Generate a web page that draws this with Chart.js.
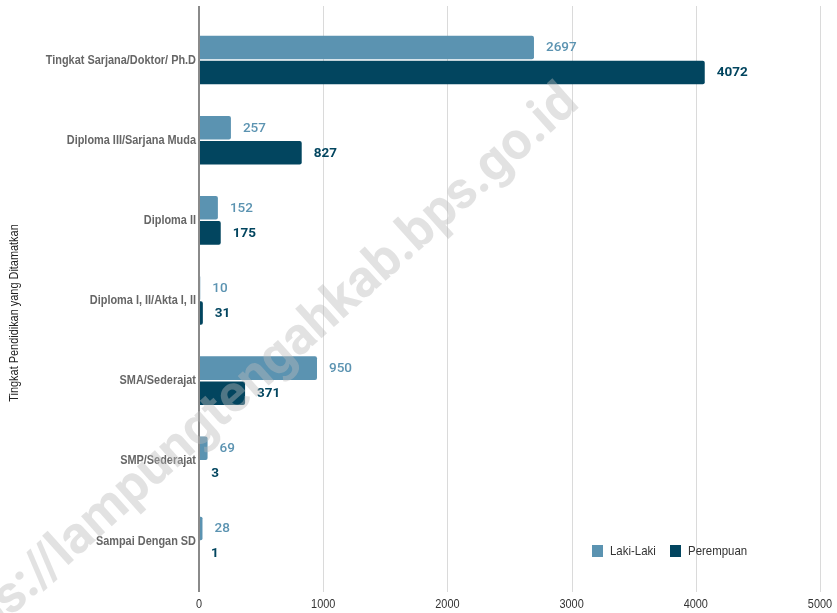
<!DOCTYPE html>
<html>
<head>
<meta charset="utf-8">
<script src="https://cdn.jsdelivr.net/npm/chart.js@4/dist/chart.umd.min.js"></script>
<style>
html,body{margin:0;padding:0;background:#fff;}
#wrap{width:837px;height:613px;position:relative;}
</style>
</head>
<body>
<div id="wrap"><canvas id="c" width="837" height="613"></canvas></div>
<script>
const categories = [
  "Tingkat Sarjana/Doktor/ Ph.D",
  "Diploma III/Sarjana Muda",
  "Diploma II",
  "Diploma I, II/Akta I, II",
  "SMA/Sederajat",
  "SMP/Sederajat",
  "Sampai Dengan SD"
];
const lakiLaki = [2697, 257, 152, 10, 950, 69, 28];
const perempuan = [4072, 827, 175, 31, 371, 3, 1];
const seriesNames = ["Laki-Laki", "Perempuan"];
const xTicks = [0, 1000, 2000, 3000, 4000, 5000];
const axisTitle = "Tingkat Pendidikan yang Ditamatkan";
const watermark = "https://lampungtengahkab.bps.go.id";

const COL_L = "#5b93b1";
const COL_P = "#02455f";
const SANS = "'Liberation Sans', Arial, sans-serif";

function narrowText(ctx, text, x, y, align, sx) {
  ctx.save();
  ctx.translate(x, y);
  ctx.scale(sx, 1);
  ctx.textAlign = align;
  ctx.fillText(text, 0, 0);
  ctx.restore();
}

const extras = {
  id: "extras",
  beforeDatasetsDraw(chart) {
    const ctx = chart.ctx, xs = chart.scales.x;
    const top = 6, bottom = 592;
    ctx.save();
    ctx.strokeStyle = "#dadada";
    ctx.lineWidth = 1;
    xTicks.forEach(v => {
      if (v === 0) return;
      const x = Math.round(xs.getPixelForValue(v)) + 0.5;
      ctx.beginPath(); ctx.moveTo(x, top); ctx.lineTo(x, bottom); ctx.stroke();
    });
    ctx.restore();
  },
  afterDatasetsDraw(chart) {
    const ctx = chart.ctx, xs = chart.scales.x, ys = chart.scales.y;
    const area = chart.chartArea;
    ctx.save();
    // zero axis
    const x0 = xs.getPixelForValue(0);
    ctx.strokeStyle = "#8a8a8a";
    ctx.lineWidth = 2;
    ctx.beginPath(); ctx.moveTo(x0, 6); ctx.lineTo(x0, 592); ctx.stroke();
    ctx.textBaseline = "middle";
    // y tick labels
    ctx.fillStyle = "#666";
    ctx.font = "bold 13px " + SANS;
    categories.forEach((c, i) => {
      narrowText(ctx, c, area.left - 3, ys.getPixelForTick(i), "right", 0.84);
    });
    // x tick labels
    ctx.fillStyle = "#333";
    ctx.font = "13px " + SANS;
    xTicks.forEach(v => {
      narrowText(ctx, String(v), xs.getPixelForValue(v), 604, "center", 0.84);
    });
    // data labels
    ctx.textAlign = "left";
    chart.data.datasets.forEach((ds, di) => {
      const meta = chart.getDatasetMeta(di);
      ctx.fillStyle = di === 0 ? COL_L : COL_P;
      ctx.font = (di === 0 ? "500 " : "bold ") + "13.5px Roboto";
      meta.data.forEach((bar, i) => {
        ctx.fillText(String(ds.data[i]), bar.x + 12, bar.y + 0.5);
      });
    });
    // axis title
    ctx.save();
    ctx.translate(14, 313);
    ctx.rotate(-Math.PI / 2);
    ctx.fillStyle = "#222";
    ctx.font = "13px " + SANS;
    narrowText(ctx, axisTitle, 0, 0, "center", 0.84);
    ctx.restore();
    // legend
    const items = [{x: 592, c: COL_L, t: seriesNames[0]}, {x: 670, c: COL_P, t: seriesNames[1]}];
    ctx.font = "13px " + SANS;
    items.forEach(it => {
      ctx.fillStyle = it.c;
      ctx.fillRect(it.x, 545, 11, 12);
      ctx.fillStyle = "#333";
      narrowText(ctx, it.t, it.x + 18, 551.5, "left", 0.88);
    });
    // watermark
    ctx.save();
    ctx.font = "bold 50px Roboto";
    const part = watermark.slice(watermark.indexOf("s:"));
    const w = ctx.measureText(part).width;
    const size = 50 * 766 / w;
    ctx.font = "bold " + size.toFixed(2) + "px Roboto";
    ctx.translate(572, 96);
    ctx.rotate(-Math.atan2(493, 550));
    ctx.textAlign = "right";
    ctx.textBaseline = "middle";
    ctx.fillStyle = "rgba(185,185,185,0.42)";
    ctx.fillText(watermark, 0, 0);
    ctx.restore();
    ctx.restore();
  }
};

new Chart(document.getElementById("c"), {
  type: "bar",
  data: {
    labels: categories,
    datasets: [
      {label: seriesNames[0], data: lakiLaki, backgroundColor: COL_L, borderRadius: 2,
       categoryPercentage: 0.625, barPercentage: 0.94},
      {label: seriesNames[1], data: perempuan, backgroundColor: COL_P, borderRadius: 2,
       categoryPercentage: 0.625, barPercentage: 0.94}
    ]
  },
  options: {
    indexAxis: "y",
    responsive: false,
    animation: false,
    layout: {padding: {top: 20, right: 17, bottom: 0, left: 0}},
    plugins: {legend: {display: false}, tooltip: {enabled: false}},
    scales: {
      x: {
        min: 0, max: 5000,
        afterBuildTicks(s) { s.ticks = xTicks.map(v => ({value: v})); },
        afterFit(s) { s.height = 32; s.paddingLeft = 0; s.paddingRight = 0; },
        grid: {display: false, drawTicks: false},
        border: {display: false},
        ticks: {display: false}
      },
      y: {
        afterFit(s) { s.width = 199; s.paddingTop = 0; s.paddingBottom = 0; },
        grid: {display: false, drawTicks: false},
        border: {display: false},
        ticks: {display: false}
      }
    }
  },
  plugins: [extras]
});
</script>
</body>
</html>
